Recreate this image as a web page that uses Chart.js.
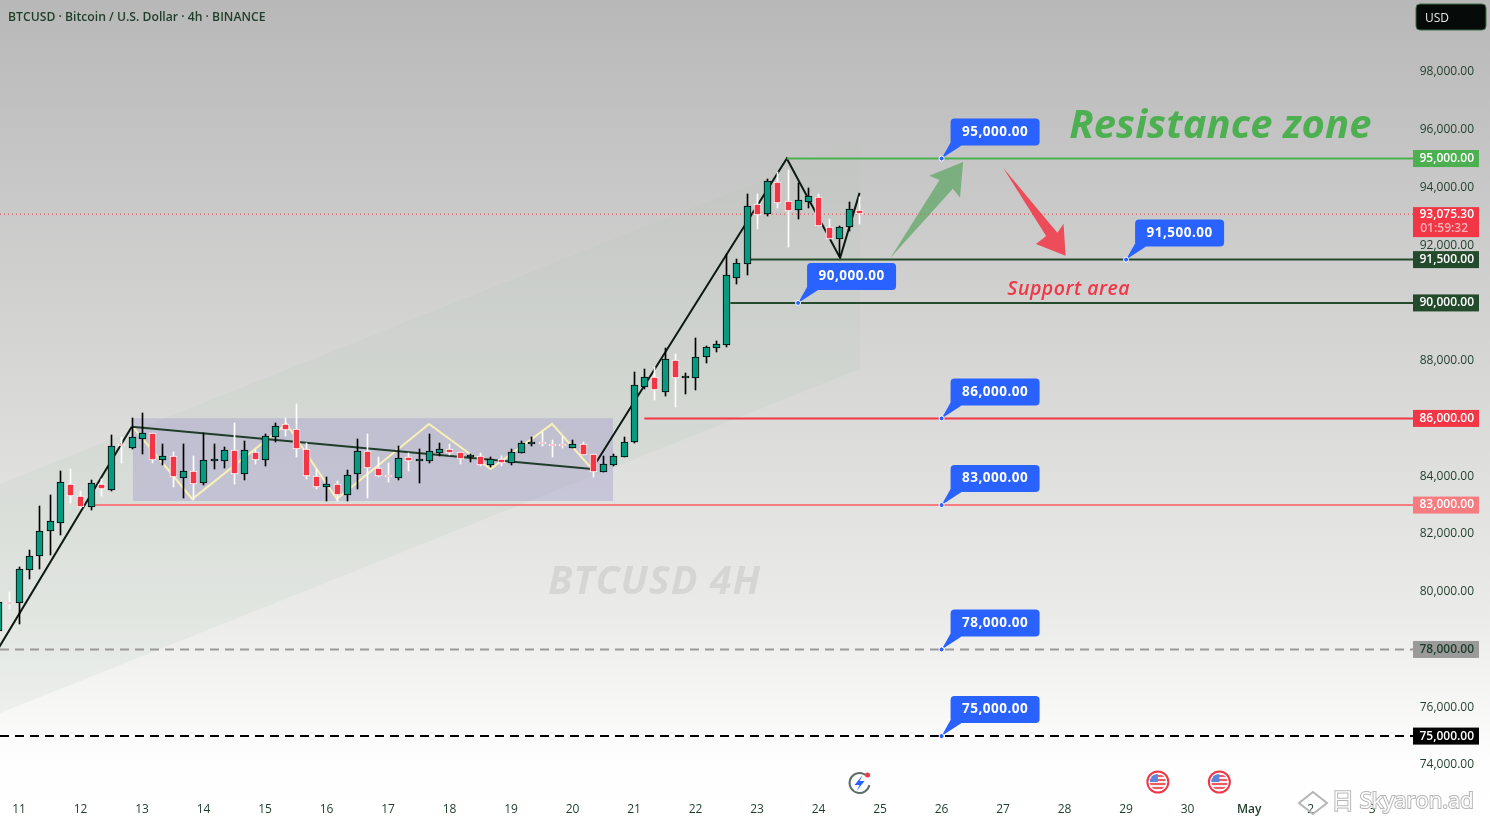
<!DOCTYPE html>
<html>
<head>
<meta charset="utf-8">
<title>BTCUSD 4h</title>
<script src="https://cdn.jsdelivr.net/npm/chart.js@4/dist/chart.umd.min.js"></script>
<style>
  html, body { margin: 0; padding: 0; background: #fff; overflow: hidden; }
  canvas { display: block; }
</style>
</head>
<body>
<canvas id="btcChart" width="1490" height="823"></canvas>
<script>
// candles, one every 4h, first slot is two bars before the "11" tick
const opens = [78640,79610,79610,80740,81230,82110,82390,83740,83330,82930,83740,83530,85050,84990,85300,85490,84570,84690,83950,84170,83770,84540,84540,84920,84090,84850,84570,85370,85800,85630,84930,84020,83640,83720,83360,84060,84870,84280,83990,83950,84660,84540,84510,84820,84930,84830,84670,84690,84400,84590,84440,84820,85130,85150,85100,85050,84990,85100,84760,84160,84390,84680,85200,87100,87430,86930,88020,87390,87410,88120,88450,88560,90860,91360,93420,93090,94180,93520,93210,93490,93660,92640,92210,92620,93230];
const closes = [79645,79575,80790,81230,82090,82440,83790,83330,82930,83760,83550,85040,85030,85350,85490,84570,84690,83960,84170,83740,84550,84580,84920,84090,84900,84570,85380,85730,85610,84930,84020,83640,83720,83360,84030,84870,84300,83990,83960,84620,84520,84560,84870,84930,84820,84610,84690,84380,84590,84470,84830,85140,85150,85130,85040,85030,85100,84750,84160,84410,84690,85190,87150,87430,86980,88050,87390,87460,88120,88470,88570,90960,91380,93350,93060,94220,93470,93180,93560,93700,92660,92210,92620,93250,93075.3];
const highs = [79680,80000,80860,81450,82960,83350,84180,84250,83490,83860,83910,85430,85340,86010,86180,85500,85120,84840,85120,84700,85490,85120,85010,85840,85220,84910,85460,85840,86010,86490,85150,84250,83980,83840,84210,85290,85460,84670,84460,85040,84810,84940,85460,85150,85120,84840,84770,84810,84670,84690,84940,85220,85360,85540,85270,85340,85260,85190,84760,84700,84770,85340,87610,87710,87780,88430,88240,87580,88790,88500,88670,91690,91520,93770,93770,94280,94540,94610,94150,93970,93770,92900,92680,93490,93670];
const lows = [78570,79400,78880,80450,80800,81270,81970,83080,82910,82840,83320,83490,84470,84940,84780,84460,84390,83630,83260,83170,83710,84250,84280,83740,83870,84430,84360,85190,85400,84670,83900,83560,83140,83140,83140,83560,83250,83980,83800,83880,84180,83770,84440,84700,84730,84410,84490,84370,84310,84370,84390,84810,85050,85040,84670,84990,84970,84750,83980,84150,84370,84680,85150,87030,86650,86790,86410,86860,87000,87920,88290,88490,90670,90970,92570,93000,93300,91920,92920,93280,92660,92210,91630,92480,92750];
const firstSlot = -2;

// axis labels
const dayLabels = ["11","12","13","14","15","16","17","18","19","20","21","22","23","24","25","26","27","28","29","30","May","2","3"];
const priceTicks = [74000,76000,78000,80000,82000,84000,86000,88000,90000,92000,94000,96000,98000];
const slotsPerDay = 6;
const priceMin = 72960;
const priceMax = 100490;
const slotMin = -1.854;
const slotMax = 143.5;
const levelEnd = 136;
const lastPrice = 93075.3;
const countdown = "01:59:32";

// horizontal levels: price, first slot of the line, colour
const levelPrices = [95000, 91500, 90000, 86000, 83000, 78000, 75000];
const levelStarts = [74.9, 71.3, 69.4, 61, 7, -1.854, -1.854];
const levelColors = ["#4caf50", "#244a2c", "#244a2c", "#f23645", "#f77c80", "#9a9a9a", "#000000"];
const levelTagText = ["#ffffff", "#ffffff", "#ffffff", "#ffffff", "#ffffff", "#1e3d2a", "#ffffff"];
const levelDashed = [false, false, false, false, false, true, true];
const calloutSlots = [90, 108, 76, 90, 90, 90, 90];

// drawings
const trendUpX = [-2, 11];
const trendUpY = [78040, 85710];
const trendFlatX = [11, 55.9];
const trendFlatY = [85710, 84250];
const swingX = [55.9, 74.9, 80.1, 82];
const swingY = [84250, 95000, 91560, 93810];
const zigzagX = [11.1, 16.9, 26.1, 31, 40, 46, 52, 55.9];
const zigzagY = [85710, 83210, 85810, 83210, 85810, 84250, 85810, 84250];
const channelX = [-1.854, 82.05];
const channelLow = [75800, 87715];
const channelHigh = [83730, 95610];
const boxX = [11.1, 57.95];
const boxLow = 83140;
const boxHigh = 86010;
const arrowUpX = [85, 89.8, 88.8, 92.1, 91.8, 91.1];
const arrowUpY = [91560, 94260, 94400, 94880, 93640, 93950];
const arrowDownX = [96, 101.3, 101.9, 102.1, 99.2, 100.2];
const arrowDownY = [94680, 92430, 92740, 91630, 92040, 92320];
const usEventSlots = [111.1, 117.1];
const newsEventSlot = 82;

const slots = opens.map((_, k) => k + firstSlot);
const isUp = opens.map((o, k) => closes[k] >= o);
const upColor = "#089981";
const downColor = "#f23645";
const tickColor = "#1e3d2a";

function money(v) {
  return v.toLocaleString("en-US", { minimumFractionDigits: 2, maximumFractionDigits: 2 });
}

function lineSet(xs, ys, color, width, order, extra) {
  return Object.assign({
    type: "line",
    data: xs.map((x, k) => ({ x: x, y: ys[k] })),
    borderColor: color,
    borderWidth: width,
    pointRadius: 0,
    tension: 0,
    fill: false,
    order: order
  }, extra || {});
}

const levelSets = levelPrices.map((p, k) => lineSet(
  [levelStarts[k], levelEnd], [p, p], levelColors[k], 2, 4,
  levelDashed[k] ? { borderDash: [9, 6] } : {}
));

const datasets = [
  // channel and consolidation box, filled between two edges
  lineSet(channelX, channelLow, "rgba(0,0,0,0)", 0, 10, { fill: "+1", backgroundColor: "rgba(180,196,180,0.16)" }),
  lineSet(channelX, channelHigh, "rgba(0,0,0,0)", 0, 10),
  lineSet(boxX, [boxLow, boxLow], "rgba(0,0,0,0)", 0, 9, { fill: "+1", backgroundColor: "rgba(164,157,205,0.42)" }),
  lineSet(boxX, [boxHigh, boxHigh], "rgba(0,0,0,0)", 0, 9),
  lineSet(zigzagX, zigzagY, "#f7f1b5", 2, 6),
  lineSet(trendFlatX, trendFlatY, "#1f3d29", 2, 5),
  lineSet(trendUpX, trendUpY, "#0d1a12", 2, 5),
  lineSet(swingX, swingY, "#0d1a12", 2, 5),
  lineSet([slotMin, levelEnd], [lastPrice, lastPrice], downColor, 1, 4, { borderDash: [1, 3] })
].concat(levelSets).concat([
  {
    // wicks
    data: slots.map((s, k) => ({ x: s, y: [lows[k], highs[k]] })),
    backgroundColor: isUp.map(u => u ? "#000000" : "#ffffff"),
    barThickness: 1,
    grouped: false,
    order: 2
  },
  {
    // bodies
    data: slots.map((s, k) => ({ x: s, y: [opens[k], closes[k]] })),
    backgroundColor: isUp.map(u => u ? upColor : downColor),
    borderColor: isUp.map(u => u ? "#000000" : "#ffffff"),
    borderWidth: 1,
    borderSkipped: false,
    barThickness: 7,
    minBarLength: 2,
    grouped: false,
    order: 1
  }
]);

function polygon(ctx, chart, xs, ys, fill) {
  const sx = chart.scales.x, sy = chart.scales.y;
  ctx.beginPath();
  xs.forEach((x, k) => {
    const px = sx.getPixelForValue(x), py = sy.getPixelForValue(ys[k]);
    if (k === 0) ctx.moveTo(px, py); else ctx.lineTo(px, py);
  });
  ctx.closePath();
  ctx.fillStyle = fill;
  ctx.fill();
}

function drawCallout(ctx, px, py, text) {
  const left = px + 9, top = py - 40, w = 89, h = 27;
  ctx.fillStyle = "#2962ff";
  ctx.beginPath();
  ctx.moveTo(px, py);
  ctx.lineTo(left, top + h - 3);
  ctx.lineTo(left + 11, top + h);
  ctx.closePath();
  ctx.fill();
  ctx.beginPath();
  ctx.roundRect(left, top, w, h, 4);
  ctx.fill();
  ctx.fillStyle = "#ffffff";
  ctx.font = "700 13.5px 'Open Sans'";
  ctx.letterSpacing = "0.5px";
  ctx.textAlign = "center";
  ctx.textBaseline = "middle";
  ctx.fillText(text, left + w / 2, top + h / 2);
  ctx.letterSpacing = "0px";
  ctx.beginPath();
  ctx.arc(px, py, 2.5, 0, Math.PI * 2);
  ctx.fillStyle = "#2962ff";
  ctx.fill();
  ctx.lineWidth = 1;
  ctx.strokeStyle = "#ffffff";
  ctx.stroke();
}

function drawTag(ctx, py, bg, color, text) {
  ctx.fillStyle = bg;
  ctx.fillRect(1413, py - 8.5, 66, 17);
  ctx.fillStyle = color;
  ctx.font = "600 12px 'Open Sans'";
  ctx.textAlign = "right";
  ctx.textBaseline = "middle";
  ctx.fillText(text, 1474, py);
}

function drawFlag(ctx, cx, cy) {
  ctx.beginPath();
  ctx.arc(cx, cy, 10.5, 0, Math.PI * 2);
  ctx.fillStyle = "#ffffff";
  ctx.fill();
  ctx.lineWidth = 2;
  ctx.strokeStyle = "#f23645";
  ctx.stroke();
  ctx.save();
  ctx.beginPath();
  ctx.arc(cx, cy, 8, 0, Math.PI * 2);
  ctx.clip();
  ctx.fillStyle = "#f0f0f0";
  ctx.fillRect(cx - 9, cy - 9, 18, 18);
  ctx.fillStyle = "#f2595f";
  for (let i = -7; i < 8; i += 4) ctx.fillRect(cx - 9, cy + i, 18, 2);
  ctx.fillStyle = "#5b86e0";
  ctx.fillRect(cx - 9, cy - 9, 9, 9);
  ctx.restore();
}

function drawNewsIcon(ctx, cx, cy) {
  ctx.beginPath();
  ctx.arc(cx, cy, 10, 0.2, Math.PI * 1.7);
  ctx.lineWidth = 2;
  ctx.strokeStyle = "#5d6d68";
  ctx.stroke();
  ctx.fillStyle = "#2962ff";
  ctx.beginPath();
  ctx.moveTo(cx + 3, cy - 8);
  ctx.lineTo(cx - 5, cy + 2);
  ctx.lineTo(cx, cy + 2);
  ctx.lineTo(cx - 3, cy + 8);
  ctx.lineTo(cx + 5, cy - 2);
  ctx.lineTo(cx, cy - 2);
  ctx.closePath();
  ctx.fill();
  ctx.fillStyle = "#f23645";
  ctx.beginPath();
  ctx.arc(cx + 8, cy - 8, 2.5, 0, Math.PI * 2);
  ctx.fill();
}

const backdrop = {
  id: "backdrop",
  beforeDraw(chart) {
    const ctx = chart.ctx;
    const g = ctx.createLinearGradient(0, 0, 0, 823);
    g.addColorStop(0, "#b8b8b8");
    g.addColorStop(0.2, "#c6c6c6");
    g.addColorStop(0.5, "#dadbd9");
    g.addColorStop(0.75, "#ebecea");
    g.addColorStop(0.93, "#fefefe");
    g.addColorStop(1, "#ffffff");
    ctx.fillStyle = g;
    ctx.fillRect(0, 0, 1490, 823);
  }
};

// keep candle edges on whole pixels so borders and wicks stay crisp
const pixelSnap = {
  id: "pixelSnap",
  afterDatasetsUpdate(chart) {
    chart.getSortedVisibleDatasetMetas().forEach(meta => {
      if (meta.type !== "bar") return;
      meta.data.forEach(bar => {
        bar.x = Math.round(bar.x - 0.25) + 0.5;
        bar.y = Math.round(bar.y);
        bar.base = Math.round(bar.base);
        bar.height = bar.base - bar.y;
      });
    });
  }
};

const overlay = {
  id: "overlay",
  afterDraw(chart) {
    const ctx = chart.ctx, sx = chart.scales.x, sy = chart.scales.y;
    ctx.save();

    ctx.textAlign = "left";
    ctx.textBaseline = "middle";
    ctx.fillStyle = tickColor;
    ctx.font = "600 12.2px 'Open Sans'";
    ctx.fillText("BTCUSD · Bitcoin / U.S. Dollar · 4h · BINANCE", 8, 18);

    // chart words
    ctx.textAlign = "center";
    ctx.fillStyle = "rgba(0,0,0,0.08)";
    ctx.font = "italic 700 39.5px 'Open Sans'";
    ctx.letterSpacing = "1px";
    ctx.fillText("BTCUSD 4H", sx.getPixelForValue(62), sy.getPixelForValue(80310));
    ctx.fillStyle = "#4caf50";
    ctx.font = "italic 700 40px 'Open Sans'";
    ctx.letterSpacing = "0.1px";
    ctx.fillText("Resistance zone", sx.getPixelForValue(117.2), sy.getPixelForValue(96110));
    ctx.fillStyle = downColor;
    ctx.font = "italic 600 19.5px 'Open Sans'";
    ctx.letterSpacing = "0.5px";
    ctx.fillText("Support area", sx.getPixelForValue(102.4), sy.getPixelForValue(90470));
    ctx.letterSpacing = "0px";

    polygon(ctx, chart, arrowUpX, arrowUpY, "rgba(76,160,84,0.62)");
    polygon(ctx, chart, arrowDownX, arrowDownY, "rgba(242,54,69,0.85)");

    levelPrices.forEach((p, k) => {
      drawCallout(ctx, sx.getPixelForValue(calloutSlots[k]), sy.getPixelForValue(p), money(p));
    });
    levelPrices.forEach((p, k) => {
      drawTag(ctx, sy.getPixelForValue(p), levelColors[k], levelTagText[k], money(p));
    });

    // last price with countdown
    const lastY = sy.getPixelForValue(lastPrice);
    ctx.fillStyle = downColor;
    ctx.fillRect(1413, lastY - 7, 66, 30);
    ctx.fillStyle = "#ffffff";
    ctx.font = "600 12px 'Open Sans'";
    ctx.textAlign = "right";
    ctx.fillText(money(lastPrice), 1474, lastY);
    ctx.fillStyle = "#f6b5bb";
    ctx.fillText(countdown, 1468, lastY + 14);

    // currency button
    ctx.fillStyle = "#060a08";
    ctx.beginPath();
    ctx.roundRect(1416, 4, 70, 26, 4);
    ctx.fill();
    ctx.strokeStyle = "#3f6b4c";
    ctx.lineWidth = 1;
    ctx.stroke();
    ctx.fillStyle = "#e6e6e6";
    ctx.textAlign = "left";
    ctx.font = "500 12px 'Open Sans'";
    ctx.fillText("USD", 1425, 19);

    // event markers
    usEventSlots.forEach(s => drawFlag(ctx, sx.getPixelForValue(s), 782));
    drawNewsIcon(ctx, sx.getPixelForValue(newsEventSlot), 783);

    // site mark
    ctx.font = "400 22px 'Open Sans'";
    ctx.textAlign = "left";
    ctx.lineWidth = 2;
    ctx.strokeStyle = "#b5b5b5";
    ctx.fillStyle = "#ffffff";
    ctx.beginPath();
    ctx.moveTo(1313, 792); ctx.lineTo(1327, 803); ctx.lineTo(1313, 814); ctx.lineTo(1299, 803);
    ctx.closePath();
    ctx.stroke();
    ctx.strokeText("日 Skyaron.ad", 1332, 802);
    ctx.fillText("日 Skyaron.ad", 1332, 802);

    ctx.restore();
  }
};

new Chart(document.getElementById("btcChart").getContext("2d"), {
  type: "bar",
  data: { datasets: datasets },
  plugins: [backdrop, pixelSnap, overlay],
  options: {
    responsive: false,
    animation: false,
    events: [],
    layout: { padding: 0 },
    plugins: { legend: { display: false }, title: { display: false }, tooltip: { enabled: false } },
    scales: {
      x: {
        type: "linear",
        offset: false,
        min: slotMin,
        max: slotMax,
        grid: { display: false, drawTicks: false },
        border: { display: false },
        afterFit: s => { s.height = 28; s.paddingLeft = 0; s.paddingRight = 0; },
        ticks: {
          stepSize: slotsPerDay,
          includeBounds: false,
          autoSkip: false,
          maxRotation: 0,
          padding: 7,
          color: tickColor,
          font: ctx => ({
            family: "'Open Sans'",
            size: 12,
            weight: ctx.tick && dayLabels[ctx.tick.value / slotsPerDay] === "May" ? "600" : "400"
          }),
          callback: v => dayLabels[v / slotsPerDay] || ""
        }
      },
      y: {
        type: "linear",
        position: "right",
        min: priceMin,
        max: priceMax,
        grid: { display: false, drawTicks: false },
        border: { display: false },
        afterFit: s => { s.width = 0; s.paddingTop = 0; s.paddingBottom = 0; },
        afterBuildTicks: s => { s.ticks = priceTicks.map(v => ({ value: v })); },
        ticks: {
          mirror: true,
          autoSkip: false,
          padding: -16,
          color: tickColor,
          font: { family: "'Open Sans'", size: 12 },
          callback: v => money(v)
        }
      }
    }
  }
});
</script>
</body>
</html>
